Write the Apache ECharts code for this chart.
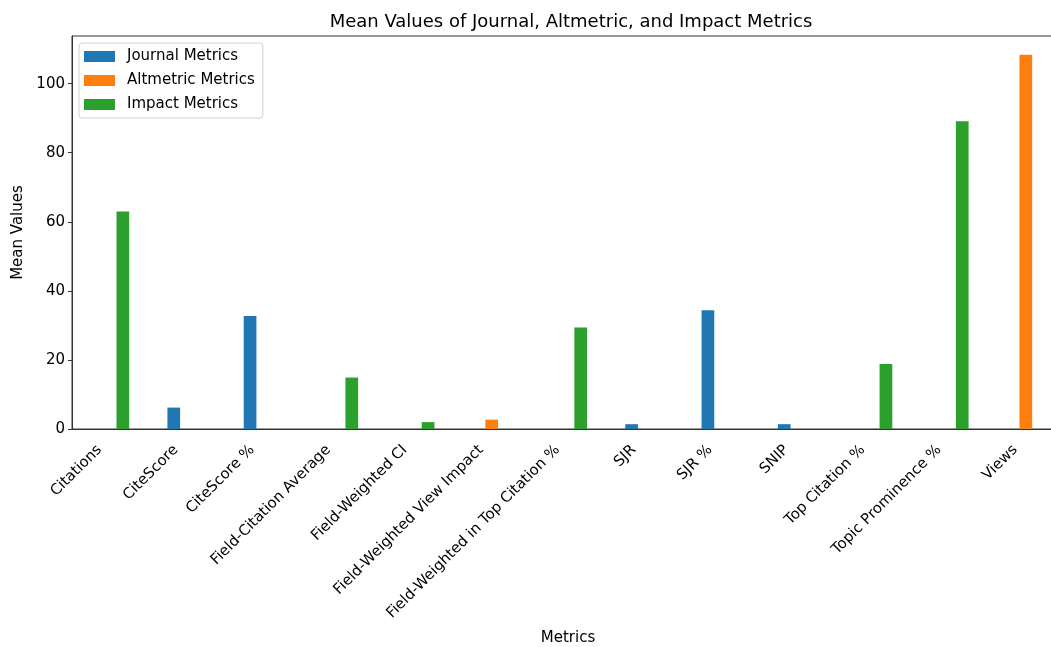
<!DOCTYPE html>
<html>
<head>
<meta charset="utf-8">
<script src="https://cdn.jsdelivr.net/npm/echarts@6/dist/echarts.min.js"></script>
<style>
  html, body { margin: 0; padding: 0; background: #fff; overflow: hidden; }
  /* the axes run past the right edge in the reference, so the canvas is a bit wider than the window */
  #chart { width: 1064px; height: 647px; }
</style>
</head>
<body>
<div id="chart"></div>
<script>
// categories and per-group means (null = metric not in that group)
const metrics = ['Citations', 'CiteScore', 'CiteScore %', 'Field-Citation Average', 'Field-Weighted CI',
    'Field-Weighted View Impact', 'Field-Weighted in Top Citation %', 'SJR', 'SJR %', 'SNIP',
    'Top Citation %', 'Topic Prominence %', 'Views'];
const journalMetrics = [null, 6.2, 32.7, null, null, null, null, 1.4, 34.4, 1.4, null, null, null];
const altmetricMetrics = [null, null, null, null, null, 2.7, null, null, null, null, null, null, 108.4];
const impactMetrics = [63.0, null, null, 14.9, 2.0, null, 29.4, null, null, null, 18.8, 89.1, null];
const yTicks = [0, 20, 40, 60, 80, 100];

const chart = echarts.init(document.getElementById('chart'));
const font = 'DejaVu Sans';

function barSeries(name, data, color) {
    return {
        name: name,
        type: 'bar',
        data: data,
        barWidth: 12.7,
        barGap: '0%',
        itemStyle: { color: color }
    };
}

chart.setOption({
    animation: false,
    textStyle: { fontFamily: font },
    title: {
        text: 'Mean Values of Journal, Altmetric, and Impact Metrics',
        left: 566, top: 8, textAlign: 'center',
        textStyle: { fontFamily: font, fontSize: 18, fontWeight: 'normal', color: '#000' }
    },
    legend: {
        orient: 'vertical',
        left: 79, top: 43,
        padding: [6, 8, 6, 5],
        itemWidth: 31, itemHeight: 11, itemGap: 9,
        icon: 'rect',
        borderColor: '#d0d0d0', borderWidth: 1, borderRadius: 3,
        backgroundColor: 'rgba(255,255,255,0.8)',
        textStyle: { fontFamily: font, fontSize: 15, color: '#000', padding: [0, 0, 0, 7] }
    },
    grid: {
        left: 72, top: 36, right: 0, bottom: 218,
        outerBoundsMode: 'none',
        show: true, borderColor: '#333', borderWidth: 1, backgroundColor: 'transparent'
    },
    xAxis: {
        type: 'category',
        data: metrics,
        name: 'Metrics',
        nameLocation: 'middle',
        nameGap: 202,
        nameTextStyle: { fontFamily: font, fontSize: 15, color: '#000' },
        axisLine: { lineStyle: { color: '#333', width: 1 } },
        axisTick: { alignWithLabel: true, length: 4, lineStyle: { color: '#333' } },
        axisLabel: {
            rotate: 45, margin: 8, padding: [0, 15, 0, 0],
            fontFamily: font, fontSize: 14.8, color: '#000', interval: 0
        }
    },
    yAxis: {
        type: 'value',
        min: 0, max: 113.8,
        name: 'Mean Values',
        nameLocation: 'middle',
        nameGap: 45,
        nameTextStyle: { fontFamily: font, fontSize: 15, color: '#000' },
        splitLine: { show: false },
        axisLine: { show: true, lineStyle: { color: '#333', width: 1 } },
        axisTick: { show: true, length: 4, lineStyle: { color: '#333' }, customValues: yTicks },
        axisLabel: { margin: 7, fontFamily: font, fontSize: 15, color: '#000', customValues: yTicks }
    },
    series: [
        barSeries('Journal Metrics', journalMetrics, '#1f77b4'),
        barSeries('Altmetric Metrics', altmetricMetrics, '#ff7f0e'),
        barSeries('Impact Metrics', impactMetrics, '#2ca02c')
    ]
});

window.addEventListener('resize', () => chart.resize());
</script>
</body>
</html>
